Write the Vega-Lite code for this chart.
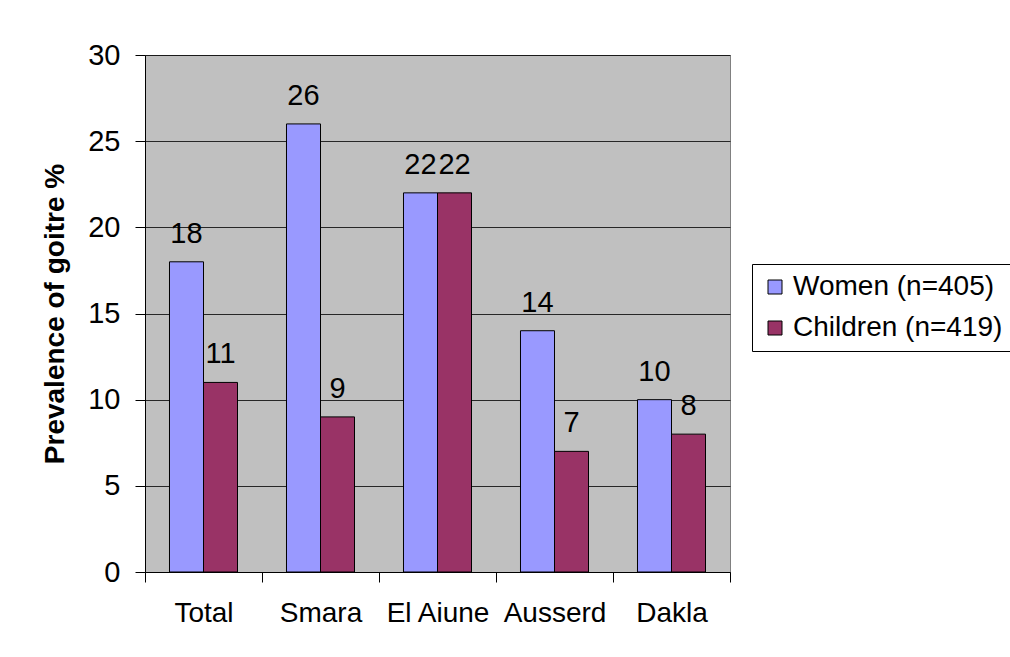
{
  "$schema": "https://vega.github.io/schema/vega-lite/v6.json",
  "autosize": "none",
  "width": 585,
  "height": 517,
  "padding": {"left": 145, "top": 55, "right": 280, "bottom": 85},
  "background": "white",
  "data": {"values": [
    {"site": "Total", "group": "Women (n=405)", "value": 18},
    {"site": "Total", "group": "Children (n=419)", "value": 11},
    {"site": "Smara", "group": "Women (n=405)", "value": 26},
    {"site": "Smara", "group": "Children (n=419)", "value": 9},
    {"site": "El Aiune", "group": "Women (n=405)", "value": 22},
    {"site": "El Aiune", "group": "Children (n=419)", "value": 22},
    {"site": "Ausserd", "group": "Women (n=405)", "value": 14},
    {"site": "Ausserd", "group": "Children (n=419)", "value": 7},
    {"site": "Dakla", "group": "Women (n=405)", "value": 10},
    {"site": "Dakla", "group": "Children (n=419)", "value": 8}
  ]},
  "encoding": {
    "x": {"field": "site", "type": "nominal", "sort": null,
      "scale": {"paddingInner": 0, "paddingOuter": 0},
      "axis": {"title": null, "labelAngle": 0, "tickBand": "extent", "tickSize": 10, "labelPadding": 17,
        "labelFontSize": 28, "labelFont": "Liberation Sans", "labelColor": "black", "labelOverlap": false, "labelLimit": 300,
        "domainColor": "#000000", "tickColor": "#000000", "domainWidth": 1, "tickWidth": 1, "grid": false}},
    "xOffset": {"field": "group", "type": "nominal", "sort": ["Women (n=405)", "Children (n=419)"],
      "scale": {"paddingInner": 0, "paddingOuter": 0.72}},
    "y": {"field": "value", "type": "quantitative",
      "scale": {"domain": [0, 30], "nice": false},
      "axis": {"title": "Prevalence of goitre %", "values": [0, 5, 10, 15, 20, 25, 30], "tickSize": 10, "labelPadding": 15,
        "labelFontSize": 29, "labelFont": "Liberation Sans", "labelColor": "black",
        "titleFontSize": 28, "titleFont": "Liberation Sans", "titleFontWeight": "bold", "titleColor": "black", "titlePadding": 18,
        "grid": true, "gridColor": "#000000", "gridWidth": 1, "gridOpacity": 0.8,
        "domainColor": "#000000", "tickColor": "#000000"}}
  },
  "layer": [
    {
      "mark": {"type": "bar", "stroke": "black", "strokeWidth": 1},
      "encoding": {
        "color": {"field": "group", "type": "nominal", "sort": ["Women (n=405)", "Children (n=419)"],
          "scale": {"domain": ["Women (n=405)", "Children (n=419)"], "range": ["#9999FF", "#993366"]},
          "legend": {"title": null, "orient": "none", "legendX": 607, "legendY": 209,
            "symbolType": "square", "symbolSize": 196, "symbolStrokeColor": "black", "symbolStrokeWidth": 1,
            "labelFontSize": 28, "labelFont": "Liberation Sans", "labelColor": "black", "labelLimit": 400,
            "rowPadding": 13, "padding": 9, "strokeColor": "black", "fillColor": "white", "labelOffset": 4}}
      }
    },
    {
      "mark": {"type": "text", "fontSize": 29, "font": "Liberation Sans", "color": "black", "baseline": "alphabetic", "dy": -19},
      "encoding": {"text": {"field": "value", "type": "quantitative"}}
    }
  ],
  "config": {
    "view": {"fill": "#C0C0C0", "stroke": "#808080", "strokeWidth": 1}
  }
}
